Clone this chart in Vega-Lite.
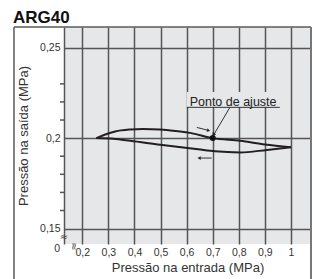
{
  "$schema": "https://vega.github.io/schema/vega-lite/v6.json",
  "width": 247,
  "height": 217,
  "autosize": "none",
  "padding": {"left": 64, "top": 27, "right": 4, "bottom": 35},
  "background": "white",
  "view": {"fill": "#e6e7e8", "stroke": null},
  "data": {"values": [{}]},
  "config": {
    "font": "Liberation Sans"
  },
  "datasets": {
    "curve": [
      {"branch": "subida", "i": 1, "x": 0.254, "y": 0.2},
      {"branch": "subida", "i": 2, "x": 0.288, "y": 0.202},
      {"branch": "subida", "i": 3, "x": 0.326, "y": 0.2037},
      {"branch": "subida", "i": 4, "x": 0.384, "y": 0.2048},
      {"branch": "subida", "i": 5, "x": 0.433, "y": 0.2051},
      {"branch": "subida", "i": 6, "x": 0.499, "y": 0.2048},
      {"branch": "subida", "i": 7, "x": 0.556, "y": 0.204},
      {"branch": "subida", "i": 8, "x": 0.613, "y": 0.2029},
      {"branch": "subida", "i": 9, "x": 0.7, "y": 0.2},
      {"branch": "subida", "i": 10, "x": 0.805, "y": 0.1985},
      {"branch": "subida", "i": 11, "x": 0.9, "y": 0.1965},
      {"branch": "subida", "i": 12, "x": 1.0, "y": 0.1949},
      {"branch": "descida", "i": 1, "x": 0.254, "y": 0.2},
      {"branch": "descida", "i": 2, "x": 0.319, "y": 0.1996},
      {"branch": "descida", "i": 3, "x": 0.384, "y": 0.1985},
      {"branch": "descida", "i": 4, "x": 0.499, "y": 0.1963},
      {"branch": "descida", "i": 5, "x": 0.644, "y": 0.1938},
      {"branch": "descida", "i": 6, "x": 0.709, "y": 0.1927},
      {"branch": "descida", "i": 7, "x": 0.805, "y": 0.1921},
      {"branch": "descida", "i": 8, "x": 0.908, "y": 0.1935},
      {"branch": "descida", "i": 9, "x": 1.0, "y": 0.1949}
    ],
    "minor": [
      {"v": 0.16}, {"v": 0.17}, {"v": 0.18}, {"v": 0.19},
      {"v": 0.21}, {"v": 0.22}, {"v": 0.23}
    ]
  },
  "layer": [
    {
      "data": {"name": "curve"},
      "mark": {"type": "line", "color": "#231f20", "strokeWidth": 2, "interpolate": "monotone"},
      "encoding": {
        "x": {
          "field": "x",
          "type": "quantitative",
          "scale": {"domain": [0.1299, 1.0767], "nice": false, "zero": false},
          "axis": {
            "values": [0.2, 0.3, 0.4, 0.5, 0.6, 0.7, 0.8, 0.9, 1.0],
            "tickCount": 30,
            "grid": true,
            "gridColor": "#555555",
            "gridWidth": 1.5,
            "ticks": false,
            "domain": false,
            "labelOverlap": false,
            "labelExpr": "replace(format(datum.value, '.1~f'), '.', ',')",
            "labelPadding": 3,
            "labelFont": "Liberation Sans",
            "labelFontSize": 10.5,
            "labelColor": "#333333",
            "title": "Pressão na entrada (MPa)",
            "titleFont": "Liberation Sans",
            "titleFontSize": 13,
            "titleFontWeight": "normal",
            "titleColor": "#333333",
            "titlePadding": 4
          }
        },
        "y": {
          "field": "y",
          "type": "quantitative",
          "scale": {"domain": [0.1415, 0.2614], "nice": false, "zero": false},
          "axis": {
            "values": [0.15, 0.2, 0.25],
            "tickCount": 30,
            "grid": true,
            "gridColor": "#555555",
            "gridWidth": 1.5,
            "ticks": false,
            "domain": true,
            "domainColor": "#555555",
            "domainWidth": 1.5,
            "labelOverlap": false,
            "labelExpr": "replace(format(datum.value, '.2~f'), '.', ',')",
            "labelPadding": 4,
            "labelFont": "Liberation Sans",
            "labelFontSize": 10.5,
            "labelColor": "#333333",
            "title": "Pressão na saída (MPa)",
            "titleFont": "Liberation Sans",
            "titleFontSize": 13,
            "titleFontWeight": "normal",
            "titleColor": "#333333",
            "titlePadding": 9
          }
        },
        "detail": {"field": "branch", "type": "nominal"},
        "order": {"field": "i", "type": "quantitative"}
      }
    },
    {
      "data": {"name": "minor"},
      "mark": {"type": "rule", "color": "#555555", "strokeWidth": 1.5},
      "encoding": {
        "x": {"datum": 0.1146, "type": "quantitative"},
        "x2": {"datum": 0.1299},
        "y": {"field": "v", "type": "quantitative"}
      }
    },
    {
      "mark": {"type": "text", "text": "0", "font": "Liberation Sans", "fontSize": 10.5, "color": "#333333", "baseline": "top", "align": "right"},
      "encoding": {
        "x": {"datum": 0.1146, "type": "quantitative"},
        "y": {"datum": 0.1415, "type": "quantitative"}
      }
    },
    {
      "mark": {"type": "rect", "fill": "#e6e7e8", "opacity": 1},
      "encoding": {
        "x": {"datum": 0.601, "type": "quantitative"},
        "x2": {"datum": 0.962},
        "y": {"datum": 0.2172, "type": "quantitative"},
        "y2": {"datum": 0.2255}
      }
    },
    {
      "mark": {"type": "text", "text": "Ponto de ajuste", "font": "Liberation Sans", "fontSize": 12.5, "color": "#222222", "baseline": "middle", "align": "center"},
      "encoding": {
        "x": {"datum": 0.778, "type": "quantitative"},
        "y": {"datum": 0.2197, "type": "quantitative"}
      }
    },
    {
      "mark": {"type": "rule", "color": "#333333", "strokeWidth": 1},
      "encoding": {
        "x": {"datum": 0.601, "type": "quantitative"},
        "x2": {"datum": 0.957},
        "y": {"datum": 0.217, "type": "quantitative"}
      }
    },
    {
      "mark": {"type": "rule", "color": "#333333", "strokeWidth": 1},
      "encoding": {
        "x": {"datum": 0.766, "type": "quantitative"},
        "x2": {"datum": 0.706},
        "y": {"datum": 0.217, "type": "quantitative"},
        "y2": {"datum": 0.2024}
      }
    },
    {
      "mark": {"type": "point", "shape": "triangle", "filled": true, "color": "#222222", "size": 18, "angle": 212, "opacity": 1},
      "encoding": {
        "x": {"datum": 0.704, "type": "quantitative"},
        "y": {"datum": 0.2022, "type": "quantitative"}
      }
    },
    {
      "mark": {"type": "point", "shape": "circle", "filled": true, "color": "#111111", "size": 36, "opacity": 1},
      "encoding": {
        "x": {"datum": 0.7, "type": "quantitative"},
        "y": {"datum": 0.2, "type": "quantitative"}
      }
    },
    {
      "mark": {"type": "rule", "color": "#333333", "strokeWidth": 1},
      "encoding": {
        "x": {"datum": 0.639, "type": "quantitative"},
        "x2": {"datum": 0.68},
        "y": {"datum": 0.2059, "type": "quantitative"},
        "y2": {"datum": 0.2044}
      }
    },
    {
      "mark": {"type": "point", "shape": "triangle", "filled": true, "color": "#222222", "size": 14, "angle": 106, "opacity": 1},
      "encoding": {
        "x": {"datum": 0.682, "type": "quantitative"},
        "y": {"datum": 0.2043, "type": "quantitative"}
      }
    },
    {
      "mark": {"type": "rule", "color": "#333333", "strokeWidth": 1},
      "encoding": {
        "x": {"datum": 0.652, "type": "quantitative"},
        "x2": {"datum": 0.696},
        "y": {"datum": 0.189, "type": "quantitative"}
      }
    },
    {
      "mark": {"type": "point", "shape": "triangle", "filled": true, "color": "#222222", "size": 14, "angle": 270, "opacity": 1},
      "encoding": {
        "x": {"datum": 0.65, "type": "quantitative"},
        "y": {"datum": 0.189, "type": "quantitative"}
      }
    },
    {
      "mark": {"type": "text", "text": "≈", "font": "DejaVu Sans", "fontSize": 10, "color": "#444444", "baseline": "middle", "align": "center"},
      "encoding": {
        "x": {"datum": 0.1295, "type": "quantitative"},
        "y": {"datum": 0.1452, "type": "quantitative"}
      }
    },
    {
      "mark": {"type": "text", "text": "≈", "font": "DejaVu Sans", "fontSize": 10, "color": "#444444", "baseline": "middle", "align": "center", "angle": 90},
      "encoding": {
        "x": {"datum": 0.1682, "type": "quantitative"},
        "y": {"datum": 0.1402, "type": "quantitative"}
      }
    },
    {
      "mark": {"type": "rule", "color": "#5a5a5a", "strokeWidth": 1.5},
      "encoding": {
        "x": {"datum": -0.0618, "type": "quantitative"},
        "x2": {"datum": 1.0767},
        "y": {"datum": 0.2614, "type": "quantitative"}
      }
    },
    {
      "mark": {"type": "rule", "color": "#5a5a5a", "strokeWidth": 1.5},
      "encoding": {
        "x": {"datum": -0.0618, "type": "quantitative"},
        "y": {"datum": 0.2614, "type": "quantitative"},
        "y2": {"datum": 0.12}
      }
    },
    {
      "mark": {"type": "rule", "color": "#777777", "strokeWidth": 2},
      "encoding": {
        "x": {"datum": 1.0767, "type": "quantitative"},
        "y": {"datum": 0.2614, "type": "quantitative"},
        "y2": {"datum": 0.12}
      }
    },
    {
      "mark": {"type": "text", "text": "ARG40", "font": "Liberation Sans", "fontSize": 17, "fontWeight": "bold", "color": "#111111", "align": "left", "baseline": "alphabetic"},
      "encoding": {
        "x": {"datum": -0.0655, "type": "quantitative"},
        "y": {"datum": 0.2634, "type": "quantitative"}
      }
    }
  ]
}
